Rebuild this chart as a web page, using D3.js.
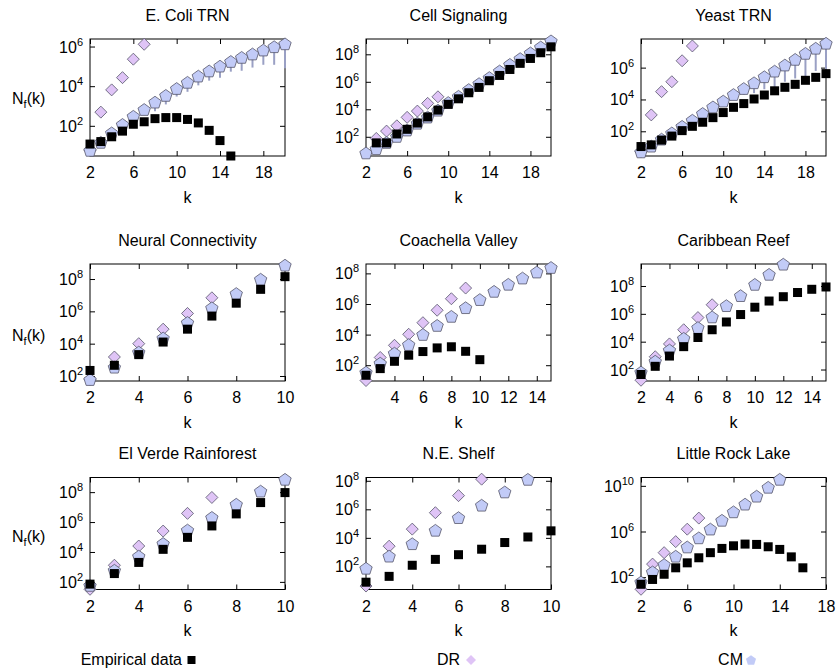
<!DOCTYPE html>
<html>
<head>
<meta charset="utf-8">
<script src="https://cdn.jsdelivr.net/npm/d3@7"></script>
<style>
  html, body { margin: 0; padding: 0; background: #fff; }
  svg { display: block; }
  text { font-family: "Liberation Sans", Arial, Helvetica, sans-serif; fill: #000; }
</style>
</head>
<body>
<svg id="chart" width="836" height="672"></svg>
<script>
// ---------------- DATA (every series starts at k = 2; null = no point) ----------------
const titles = ["E. Coli TRN", "Cell Signaling", "Yeast TRN",
                "Neural Connectivity", "Coachella Valley", "Caribbean Reef",
                "El Verde Rainforest", "N.E. Shelf", "Little Rock Lake"];

// E. Coli TRN
const ecoliEmp = [12, 16, 28, 54, 120, 160, 230, 260, 260, 210, 140, 59, 18, 3];
const ecoliDR = [5.9, 490, 6500, 2.7e4, 2.3e5, 1.3e6];
const ecoliCM = [5.9, 15, 45, 120, 310, 680, 1600, 3500, 7800, 1.6e4, 3.3e4, 6.0e4, 1.05e5, 1.8e5, 2.9e5, 4.3e5, 6.8e5, 1.0e6, 1.4e6];
const ecoliCMLow = [null, null, null, 70, 180, 350, 550, 1200, 3000, 5200, 1.1e4, 1.9e4, 2.7e4, 5.4e4, 6.0e4, 8.7e4, 1.2e5, 1.2e5, 8e4];

// Cell Signaling
const cellEmp = [null, 36, 36, 160, 350, 1000, 2800, 8700, 2.3e4, 5.8e4, 1.6e5, 3.9e5, 1.2e6, 2.9e6, 7.9e6, 2.2e7, 5.0e7, 1.3e8, 3.5e8];
const cellDR = [null, 76, 260, 630, 2600, 7400, 2.7e4, 8.1e4];
const cellCM = [6.9, 14, 40, 110, 320, 1000, 2800, 8900, 3.2e4, 9.1e4, 2.8e5, 7.6e5, 2.1e6, 6.3e6, 1.9e7, 5.0e7, 1.3e8, 3.5e8, 9.8e8];

// Yeast TRN
const yeastEmp = [11, 14, 28, 50, 110, 205, 370, 720, 1500, 3200, 5500, 1.07e4, 1.9e4, 3.5e4, 5.8e4, 8.9e4, 1.6e5, 2.45e5, 4.2e5];
const yeastDR = [5.2, 1070, 3.1e4, 1.3e5, 2.7e6, 2.3e7];
const yeastCM = [5.2, 12, 33, 81, 210, 510, 1350, 3500, 8100, 2.1e4, 5.0e4, 1.15e5, 2.75e5, 6.2e5, 1.5e6, 3.4e6, 8.1e6, 1.7e7, 3.5e7];
const yeastCMLow = [null, null, null, null, null, null, null, null, 4000, 1e4, 2e4, 2.5e4, 4.4e4, 5e4, 1.3e5, 2.1e5, 2.1e5, 6.2e5, 8e5];

// Neural Connectivity
const neuralEmp = [220, 460, 2100, 1.26e4, 7.9e4, 5.1e5, 3.2e6, 2.3e7, 1.4e8];
const neuralDR = [63, 1500, 1.0e4, 7.9e4, 7.4e5, 6.9e6];
const neuralCM = [62, 360, 3100, 2.3e4, 2.1e5, 1.7e6, 1.3e7, 1.0e8, 7.4e8];

// Coachella Valley
const coachEmp = [22, 60, 180, 450, 780, 1350, 1600, 810, 230];
const coachDR = [10, 320, 2000, 1.05e4, 6.0e4, 3.9e5, 2.2e6, 1.1e7];
const coachCM = [36, 140, 630, 2300, 1.05e4, 4.1e4, 1.6e5, 5.9e5, 2.0e6, 6.9e6, 2.0e7, 5.1e7, 1.26e8, 2.5e8];

// Caribbean Reef
const caribEmp = [44, 170, 930, 4400, 2.0e4, 7.2e4, 2.6e5, 8.9e5, 3.0e6, 8.3e6, 1.7e7, 3.4e7, 5.8e7, 8.5e7];
const caribDR = [17, 830, 6900, 7.2e4, 5.4e5, 4.5e6];
const caribCM = [68, 410, 2600, 1.8e4, 1.07e5, 6.2e5, 4.0e6, 2.1e7, 1.35e8, 7.1e8, 3.8e9];

// El Verde Rainforest
const elverdeEmp = [71, 360, 2000, 1.5e4, 9.5e4, 5.5e5, 3.5e6, 2.0e7, 9.3e7];
const elverdeDR = [32, 1300, 2.5e4, 2.5e5, 3.8e6, 4.4e7];
const elverdeCM = [60, 620, 5400, 3.8e4, 3.0e5, 2.1e6, 1.6e7, 1.2e8, 7.4e8];

// N.E. Shelf
const shelfEmp = [7.8, 20, 120, 310, 660, 1600, 4700, 1.15e4, 3.1e4];
const shelfDR = [4.2, 2600, 4.1e4, 5.8e5, 9.1e6, 1.3e8];
const shelfCM = [76, 540, 4000, 3.5e4, 2.7e5, 2.0e6, 1.7e7, 1.3e8];

// Little Rock Lake
const lakeEmp = [24, 63, 180, 660, 1800, 5000, 1.4e4, 3.3e4, 5.6e4, 7.9e4, 7.4e4, 4.6e4, 2.7e4, 6000, 660];
const lakeDR = [8.7, 1400, 1.4e4, 1.3e5, 1.6e6, 1.5e7];
const lakeCM = [39, 300, 1300, 7100, 4.6e4, 2.9e5, 1.7e6, 1.0e7, 5.5e7, 2.6e8, 1.3e9, 7.8e9, 3.9e10];

// axis ranges and tick values
const xDomains = [[2, 20], [2, 20], [2, 20], [2, 10], [2, 15], [2, 15], [2, 10], [2, 10], [2, 18]];
const yDomains = [[3, 2.4e6], [4, 1.3e9], [2.8, 6.3e7], [49, 8.5e8], [9.3, 4.1e8], [15, 3.8e9], [31, 9.5e8], [2.4, 1.7e8], [8.3, 5.4e10]];
const xTickValues = [[2, 6, 10, 14, 18], [2, 6, 10, 14, 18], [2, 6, 10, 14, 18],
                     [2, 4, 6, 8, 10], [4, 6, 8, 10, 12, 14], [2, 4, 6, 8, 10, 12, 14],
                     [2, 4, 6, 8, 10], [2, 4, 6, 8, 10], [2, 6, 10, 14, 18]];
const yTickValues = [[1e2, 1e4, 1e6], [1e2, 1e4, 1e6, 1e8], [1e2, 1e4, 1e6],
                     [1e2, 1e4, 1e6, 1e8], [1e2, 1e4, 1e6, 1e8], [1e2, 1e4, 1e6, 1e8],
                     [1e2, 1e4, 1e6, 1e8], [1e2, 1e4, 1e6, 1e8], [1e2, 1e6, 1e10]];
const legendLabels = ["Empirical data", "DR", "CM"];

const empSeries = [ecoliEmp, cellEmp, yeastEmp, neuralEmp, coachEmp, caribEmp, elverdeEmp, shelfEmp, lakeEmp];
const drSeries = [ecoliDR, cellDR, yeastDR, neuralDR, coachDR, caribDR, elverdeDR, shelfDR, lakeDR];
const cmSeries = [ecoliCM, cellCM, yeastCM, neuralCM, coachCM, caribCM, elverdeCM, shelfCM, lakeCM];
const cmLowSeries = [ecoliCMLow, null, yeastCMLow, null, null, null, null, null, null];

// ---------------- LAYOUT / STYLE ----------------
const colX = [[90, 285], [366, 551], [641, 826]];
const rowY = [[39, 156], [264, 381], [477.5, 589.5]];
const ylabelBaseline = [104, 341, 542];
const COLORS = { emp: "#000000", dr: "#dfc4f6", cm: "#c2cbf7", stroke: "#55556a", err: "#9aa0c4" };
const FONT = 16;

const svg = d3.select("#chart");

function pentagonPath(r) {
  const pts = d3.range(5).map(i => {
    const a = -Math.PI / 2 + i * 2 * Math.PI / 5;
    return [r * Math.cos(a), r * Math.sin(a)];
  });
  return "M" + pts.map(p => p[0].toFixed(2) + "," + p[1].toFixed(2)).join("L") + "Z";
}
function diamondPath(h) {
  return `M0,${-h}L${h},0L0,${h}L${-h},0Z`;
}
const toPts = arr => (arr || []).map((v, i) => ({ k: i + 2, v })).filter(d => d.v != null);

titles.forEach((title, p) => {
  const col = p % 3, row = Math.floor(p / 3);
  const [x0, x1] = colX[col];
  const [y0, y1] = rowY[row];
  const x = d3.scaleLinear().domain(xDomains[p]).range([x0, x1]);
  const y = d3.scaleLog().domain(yDomains[p]).range([y1, y0]);
  const g = svg.append("g");

  // title
  g.append("text").attr("x", (x0 + x1) / 2).attr("y", y0 - 18.5)
    .attr("text-anchor", "middle").attr("font-size", FONT).text(title);

  // axes (ticks point inward on all four sides)
  const bottom = g.append("g").attr("transform", `translate(0,${y1})`)
    .call(d3.axisBottom(x).tickValues(xTickValues[p]).tickSizeInner(-5).tickSizeOuter(0).tickPadding(11).tickFormat(d3.format("d")));
  const top = g.append("g").attr("transform", `translate(0,${y0})`)
    .call(d3.axisTop(x).tickValues(xTickValues[p]).tickSizeInner(-5).tickSizeOuter(0).tickFormat(""));
  const left = g.append("g").attr("transform", `translate(${x0},0)`)
    .call(d3.axisLeft(y).tickValues(yTickValues[p]).tickSizeInner(-5).tickSizeOuter(0).tickPadding(7));
  const right = g.append("g").attr("transform", `translate(${x1},0)`)
    .call(d3.axisRight(y).tickValues(yTickValues[p]).tickSizeInner(-5).tickSizeOuter(0).tickFormat(""));
  [bottom, top, left, right].forEach(a => {
    a.select(".domain").remove();
    a.selectAll(".tick line").attr("stroke", "#000").attr("stroke-width", 1);
    a.selectAll("text").attr("font-size", FONT).attr("font-family", null);
  });
  left.selectAll(".tick text").each(function (d) {
    const t = d3.select(this);
    t.text(null).attr("dy", null).attr("y", 5.5);
    t.append("tspan").text("10");
    t.append("tspan").attr("font-size", 11).attr("dy", -7).text(Math.round(Math.log10(d)));
  });

  // frame
  g.append("rect").attr("x", x0).attr("y", y0).attr("width", x1 - x0).attr("height", y1 - y0)
    .attr("fill", "none").attr("stroke", "#000").attr("stroke-width", 1);

  // axis labels
  g.append("text").attr("x", (x0 + x1) / 2).attr("y", y1 + 46.5)
    .attr("text-anchor", "middle").attr("font-size", FONT).text("k");
  if (col === 0) {
    const yl = g.append("text").attr("x", 12).attr("y", ylabelBaseline[row]).attr("font-size", FONT);
    yl.append("tspan").text("N");
    yl.append("tspan").attr("font-size", 11).attr("dy", 4).text("f");
    yl.append("tspan").attr("dy", -4).text("(k)");
  }

  // CM error bars (lower side)
  const cm = toPts(cmSeries[p]);
  const low = toPts(cmLowSeries[p]);
  g.append("g").selectAll("line").data(low).join("line")
    .attr("x1", d => x(d.k)).attr("x2", d => x(d.k))
    .attr("y1", d => y(cmSeries[p][d.k - 2])).attr("y2", d => y(d.v))
    .attr("stroke", COLORS.err).attr("stroke-width", 2);

  // DR diamonds
  g.append("g").selectAll("path").data(toPts(drSeries[p])).join("path")
    .attr("d", diamondPath(6))
    .attr("transform", d => `translate(${x(d.k)},${y(d.v)})`)
    .attr("fill", COLORS.dr).attr("stroke", COLORS.stroke).attr("stroke-width", 0.8);

  // CM pentagons
  g.append("g").selectAll("path").data(cm).join("path")
    .attr("d", pentagonPath(6.5))
    .attr("transform", d => `translate(${x(d.k)},${y(d.v) + 0.8})`)
    .attr("fill", COLORS.cm).attr("stroke", COLORS.stroke).attr("stroke-width", 0.8);

  // Empirical squares
  g.append("g").selectAll("rect").data(toPts(empSeries[p])).join("rect")
    .attr("x", d => x(d.k) - 4.5).attr("y", d => y(d.v) - 4.5)
    .attr("width", 9).attr("height", 9).attr("fill", COLORS.emp);
});

// ---------------- LEGEND ----------------
const legendTextEnd = [182, 460, 743];
const lg = svg.append("g");
legendLabels.forEach((lab, i) => {
  lg.append("text").attr("x", legendTextEnd[i]).attr("y", 665).attr("text-anchor", "end")
    .attr("font-size", FONT).text(lab);
});
lg.append("rect").attr("x", legendTextEnd[0] + 5.5).attr("y", 656).attr("width", 8).attr("height", 8).attr("fill", COLORS.emp);
lg.append("path").attr("d", diamondPath(5)).attr("transform", `translate(${legendTextEnd[1] + 11},660)`).attr("fill", COLORS.dr);
lg.append("path").attr("d", pentagonPath(5.3)).attr("transform", `translate(${legendTextEnd[2] + 8},660.5)`).attr("fill", COLORS.cm);
</script>
</body>
</html>
